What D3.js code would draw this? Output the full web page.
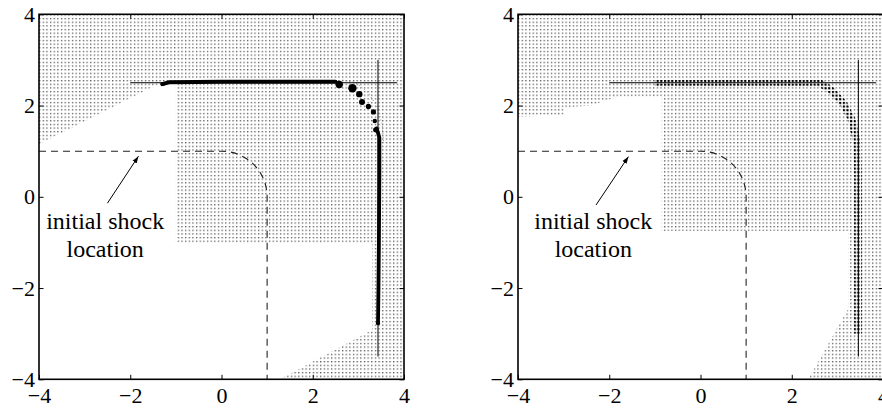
<!DOCTYPE html>
<html><head><meta charset="utf-8">
<script src="https://cdn.jsdelivr.net/npm/d3@7"></script>
<style>html,body{margin:0;padding:0;background:#fff;}svg{display:block;}</style>
</head><body>
<svg id="chart" width="882" height="408"></svg>
<script>
// ---------- data ----------
const axisTicks = [-4, -2, 0, 2, 4];
const gridStep = 0.08;               // mesh spacing (data units)

// left panel: refined mesh regions (polygons in data coords)
const leftMeshTop = [[-4,4],[4,4],[4,2.5],[-1.28,2.52],[-4,1.15]];
const leftMeshCenter = [[-1,2.5],[4,2.5],[4,-1],[-1,-1]];
const leftMeshBottom = [[1.28,-4],[4,-4],[4,-1],[3.3,-1],[3.3,-2.92]];
// left panel: computed shock (thick line + blobs)
const leftShockTop = [[-1.3,2.47],[-1.15,2.51],[0,2.52],[2.5,2.52]];
const leftShockSide = [[3.4,1.5],[3.46,1.3],[3.46,0.5],[3.45,-1],[3.44,-2],[3.43,-2.77]];
const leftBlobX = [-1.28, 2.58, 2.87, 3.02, 3.08, 3.22, 3.33, 3.36, 3.38, 3.43];
const leftBlobY = [2.47, 2.46, 2.38, 2.25, 2.08, 1.98, 1.86, 1.66, 1.47, -2.77];
const leftBlobR = [2, 3.7, 4.2, 3.2, 3, 2.6, 2.6, 2.2, 2.6, 2];
const leftFaint = [[2.65,2.56],[2.95,2.5],[3.2,2.3],[3.4,2.0],[3.52,1.6],[3.55,1.2]];

// right panel: refined mesh regions
const rightMeshTop = [[-4,4],[4,4],[4,2.5],[-0.85,2.5],[-0.85,2.2],[-1.8,2.2],[-2.4,2.0],[-3.0,1.95],[-3.0,1.8],[-4,1.75]];
const rightMeshCenter = [[-0.85,2.5],[4,2.5],[4,-0.75],[-0.85,-0.75]];
const rightMeshBottom = [[2.36,-4],[4,-4],[4,-0.75],[3.24,-0.75],[3.24,-2.45]];
// right panel: computed shock (dark mesh points)
const rightShock = [[-1.0,2.5],[2.6,2.5],[2.84,2.36],[3.13,2.05],[3.32,1.68],[3.43,1.18],[3.45,0.5],[3.45,-3.0]];

// exact shock location (cross-hair lines)
const exactShockY = 2.5, exactShockX = [3.43, 3.46];
const crossHX = [-2, 3.85];
const crossVY = [-3.5, 3.0];

// initial shock: y = 1 line, quarter circle radius 1, x = 1 line
const initShockLevel = 1, initShockRadius = 1;

// annotation
const annoText = ["initial shock", "location"];
const arrowFrom = [[-2.5,-0.14],[-2.29,-0.18]];
const arrowTo = [[-1.82,0.89],[-1.58,0.88]];
const annoCenterX = [-2.55, -2.35];

// ---------- layout ----------
const svg = d3.select("#chart");
const size = 365, topY = 14.3;
const panelLeft = [39, 518];
const x = d3.scaleLinear().domain([-4,4]).range([0,size]);
const y = d3.scaleLinear().domain([-4,4]).range([size,0]);
const step = x(gridStep) - x(0);

const defs = svg.append("defs");
const pl = defs.append("pattern").attr("id","mesh").attr("patternUnits","userSpaceOnUse")
  .attr("width",step).attr("height",step);
pl.append("rect").attr("x",0).attr("y",0).attr("width",1.3).attr("height",1.3).attr("fill","#555");
const pd = defs.append("pattern").attr("id","meshDark").attr("patternUnits","userSpaceOnUse")
  .attr("width",step).attr("height",step);
pd.append("rect").attr("x",-0.4).attr("y",-0.4).attr("width",2.5).attr("height",2.5).attr("fill","#000");
defs.append("clipPath").attr("id","clip").append("rect").attr("width",size).attr("height",size);
defs.append("marker").attr("id","arrow").attr("viewBox","0 0 10 10").attr("refX",10).attr("refY",5)
  .attr("markerWidth",7).attr("markerHeight",7).attr("markerUnits","userSpaceOnUse").attr("orient","auto")
  .append("path").attr("d","M0,1.5 L10,5 L0,8.5 Z").attr("fill","#000");

const line = d3.line().x(d=>x(d[0])).y(d=>y(d[1]));
const poly = pts => line(pts) + "Z";
const fmt = d => d < 0 ? "\u2212" + Math.abs(d) : String(d);
const fontFam = "'Liberation Serif','Times New Roman',serif";

function drawPanel(i, meshes) {
  const g = svg.append("g").attr("transform", `translate(${panelLeft[i]},${topY})`);
  const inner = g.append("g").attr("clip-path","url(#clip)");
  inner.append("path").attr("d", meshes.map(poly).join(" ")).attr("fill","url(#mesh)");
  return {g, inner};
}

function initShock(inner) {
  const p = d3.path();
  p.moveTo(x(-4), y(initShockLevel));
  p.lineTo(x(0), y(initShockLevel));
  p.arc(x(0), y(0), x(initShockRadius) - x(0), -Math.PI/2, 0);
  p.lineTo(x(initShockRadius), y(-4));
  inner.append("path").attr("d", p.toString()).attr("fill","none")
    .attr("stroke","#222").attr("stroke-width",1.1).attr("stroke-dasharray","7,5");
}

function crossHair(inner, i) {
  inner.append("line").attr("x1",x(crossHX[0])).attr("x2",x(crossHX[1]))
    .attr("y1",y(exactShockY)).attr("y2",y(exactShockY)).attr("stroke","#000").attr("stroke-width",1);
  inner.append("line").attr("x1",x(exactShockX[i])).attr("x2",x(exactShockX[i]))
    .attr("y1",y(crossVY[0])).attr("y2",y(crossVY[1])).attr("stroke","#000").attr("stroke-width",1);
}

function annotate(g, i) {
  g.append("line").attr("x1",x(arrowFrom[i][0])).attr("y1",y(arrowFrom[i][1]))
    .attr("x2",x(arrowTo[i][0])).attr("y2",y(arrowTo[i][1]))
    .attr("stroke","#000").attr("stroke-width",1).attr("marker-end","url(#arrow)");
  const t = g.append("text").attr("font-family",fontFam).attr("font-size",24)
    .attr("text-anchor","middle").attr("fill","#000");
  t.append("tspan").attr("x",x(annoCenterX[i])).attr("y",y(-0.7)).text(annoText[0]);
  t.append("tspan").attr("x",x(annoCenterX[i])).attr("y",y(-1.32)).text(annoText[1]);
}

function axes(g) {
  const mk = (a, show) => a.tickValues(axisTicks).tickSize(-4.5).tickFormat(show ? fmt : "");
  const styl = sel => {
    sel.select(".domain").remove();
    sel.selectAll(".tick line").attr("stroke","#000").attr("stroke-width",1);
    sel.selectAll("text").attr("font-family",fontFam).attr("font-size",22).attr("fill","#000");
  };
  g.append("g").attr("transform",`translate(0,${size})`).call(mk(d3.axisBottom(x),true).tickPadding(8)).call(styl);
  g.append("g").call(mk(d3.axisTop(x),false)).call(styl);
  g.append("g").call(mk(d3.axisLeft(y),true).tickPadding(4)).call(styl);
  g.append("g").attr("transform",`translate(${size},0)`).call(mk(d3.axisRight(y),false)).call(styl);
  g.append("rect").attr("width",size).attr("height",size).attr("fill","none")
    .attr("stroke","#000").attr("stroke-width",1.6);
}

// ----- left panel -----
{
  const {g, inner} = drawPanel(0, [leftMeshTop, leftMeshCenter, leftMeshBottom]);
  initShock(inner);
  inner.append("path").attr("d", line(leftFaint)).attr("fill","none").attr("stroke","#888")
    .attr("stroke-width",1).attr("stroke-dasharray","1,2.5");
  crossHair(inner, 0);
  inner.append("path").attr("d", line(leftShockTop)).attr("fill","none").attr("stroke","#000")
    .attr("stroke-width",4).attr("stroke-linecap","round");
  inner.append("path").attr("d", line(leftShockSide)).attr("fill","none").attr("stroke","#000")
    .attr("stroke-width",3.8).attr("stroke-linecap","round");
  inner.selectAll("circle.blob").data(leftBlobX).join("circle").attr("class","blob")
    .attr("cx",(d)=>x(d)).attr("cy",(d,j)=>y(leftBlobY[j])).attr("r",(d,j)=>leftBlobR[j]).attr("fill","#000");
  annotate(g, 0);
  axes(g);
}
// ----- right panel -----
{
  const {g, inner} = drawPanel(1, [rightMeshTop, rightMeshCenter, rightMeshBottom]);
  initShock(inner);
  inner.append("path").attr("d", line(rightShock)).attr("fill","none").attr("stroke","url(#meshDark)")
    .attr("stroke-width",7.5).attr("stroke-linejoin","round");
  crossHair(inner, 1);
  annotate(g, 1);
  axes(g);
}
</script>
</body></html>
